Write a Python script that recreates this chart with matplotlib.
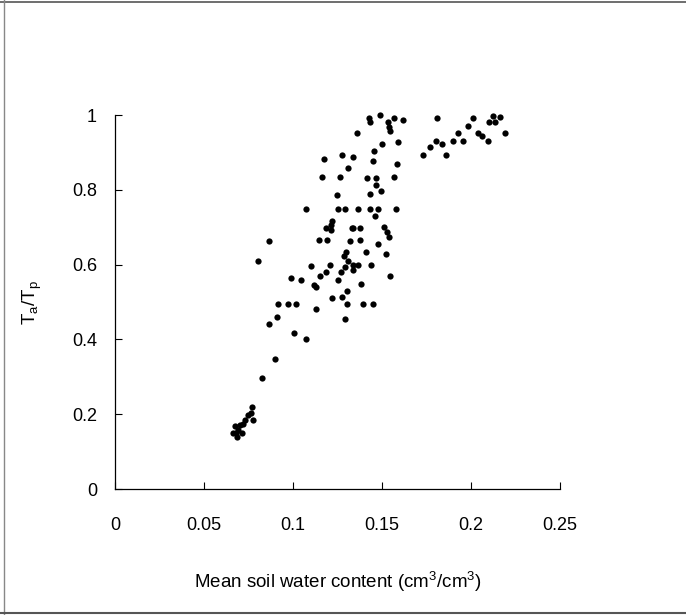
import matplotlib
matplotlib.use('Agg')
import matplotlib.pyplot as plt
from matplotlib.lines import Line2D
import numpy as np

# soil water content (cm3/cm3) and relative transpiration Ta/Tp
swc = [0.1427, 0.1489, 0.1569, 0.1616, 0.1434, 0.1532, 0.1541, 0.1545, 0.1360, 0.1500,
       0.1588, 0.1457, 0.1274, 0.1337, 0.1172, 0.1448, 0.1586, 0.1311, 0.1165, 0.1266,
       0.1414, 0.1466, 0.1566, 0.1468, 0.1494, 0.1431, 0.1247, 0.1073, 0.1254, 0.1294,
       0.1367, 0.1431, 0.1478, 0.1577, 0.1459, 0.1221, 0.1211, 0.1184, 0.1212, 0.1330,
       0.1339, 0.1376, 0.1513, 0.1530, 0.1541, 0.0863, 0.1146, 0.1193, 0.1320, 0.1376,
       0.1476, 0.1410, 0.1299, 0.1288, 0.1521, 0.0803, 0.1311, 0.1208, 0.1099, 0.1290,
       0.1337, 0.1365, 0.1440, 0.1337, 0.1272, 0.1184, 0.1153, 0.0989, 0.1045, 0.1254,
       0.1547, 0.1118, 0.1129, 0.1384, 0.1302, 0.1219, 0.1274, 0.0917, 0.0972, 0.1017,
       0.1302, 0.1393, 0.1448, 0.1128, 0.0908, 0.1294, 0.0863, 0.1007, 0.1073, 0.0897,
       0.0824,
       0.1807, 0.2010, 0.2122, 0.2163, 0.2135, 0.2101, 0.1983, 0.1927, 0.2038, 0.2063,
       0.2094, 0.2193, 0.1802, 0.1901, 0.1955, 0.1771, 0.1837, 0.1730, 0.1860,
       0.0771, 0.0764, 0.0777, 0.0749, 0.0730, 0.0721, 0.0702, 0.0674, 0.0693, 0.0665,
       0.0684, 0.0712, 0.0680]
ratio = [0.991, 1.001, 0.991, 0.986, 0.980, 0.980, 0.969, 0.958, 0.952, 0.922,
         0.927, 0.903, 0.893, 0.887, 0.883, 0.878, 0.869, 0.857, 0.833, 0.833,
         0.832, 0.832, 0.833, 0.814, 0.798, 0.789, 0.785, 0.749, 0.749, 0.748,
         0.749, 0.749, 0.749, 0.749, 0.729, 0.717, 0.706, 0.699, 0.693, 0.698,
         0.698, 0.698, 0.700, 0.688, 0.675, 0.664, 0.665, 0.665, 0.664, 0.665,
         0.654, 0.634, 0.634, 0.623, 0.629, 0.609, 0.610, 0.600, 0.595, 0.594,
         0.600, 0.600, 0.600, 0.585, 0.579, 0.579, 0.570, 0.564, 0.559, 0.560,
         0.570, 0.545, 0.541, 0.549, 0.529, 0.511, 0.514, 0.495, 0.495, 0.495,
         0.495, 0.495, 0.495, 0.481, 0.460, 0.455, 0.441, 0.416, 0.402, 0.348,
         0.298,
         0.991, 0.991, 0.997, 0.994, 0.982, 0.980, 0.971, 0.952, 0.953, 0.944,
         0.931, 0.953, 0.931, 0.931, 0.931, 0.914, 0.922, 0.893, 0.892,
         0.220, 0.203, 0.184, 0.198, 0.184, 0.174, 0.171, 0.168, 0.158, 0.149,
         0.140, 0.149, 0.150]

x_ticks = [0, 0.05, 0.1, 0.15, 0.2, 0.25]
x_labels = ['0', '0.05', '0.1', '0.15', '0.2', '0.25']
y_ticks = [0, 0.2, 0.4, 0.6, 0.8, 1]
y_labels = ['0', '0.2', '0.4', '0.6', '0.8', '1']

plt.rcParams['font.family'] = ['Liberation Sans', 'DejaVu Sans']

fig = plt.figure(figsize=(6.86, 6.15), dpi=100)
ax = fig.add_axes([115/686, 126/615, 445/686, 374/615])

ax.plot(swc, ratio, 'o', color='black', ms=4.5, mew=0, clip_on=False)

ax.set_xlim(0, 0.25)
ax.set_ylim(0, 1)
ax.set_xticks(x_ticks)
ax.set_xticklabels(x_labels)
ax.set_yticks(y_ticks)
ax.set_yticklabels(y_labels)
ax.tick_params(direction='in', length=5, width=0.8, labelsize=13)
ax.tick_params(axis='x', pad=20)
ax.tick_params(axis='y', pad=13)

for s in ['top', 'right']:
    ax.spines[s].set_visible(False)
for s in ['left', 'bottom']:
    ax.spines[s].set_linewidth(0.9)

ax.set_xlabel(r'Mean soil water content (cm$\mathregular{^3}$/cm$\mathregular{^3}$)', fontsize=13.5, labelpad=26)
ax.set_ylabel(r'$\mathregular{T_a/T_p}$', fontsize=13.5, labelpad=20)

# outer frame of the chart area (top, left, bottom)
fig.add_artist(Line2D([0, 1], [1 - 2/615, 1 - 2/615], color='#555555', lw=1.2, transform=fig.transFigure))
fig.add_artist(Line2D([4/686, 4/686], [0, 1], color='#888888', lw=1.0, transform=fig.transFigure))
fig.add_artist(Line2D([0, 1], [2/615, 2/615], color='#555555', lw=1.5, transform=fig.transFigure))

fig.savefig('out.png', dpi=100)
